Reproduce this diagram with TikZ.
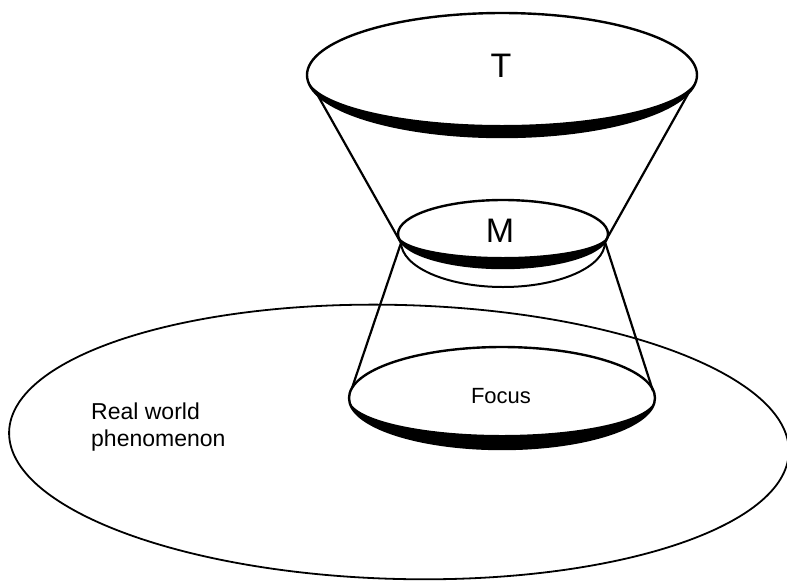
\documentclass[tikz,border=0pt]{standalone}
\usepackage{fontspec}
\setmainfont{Liberation Sans}
\usepackage{tikz}
\usetikzlibrary{calc}

\begin{document}
\begin{tikzpicture}[
      x=1pt, y=-1pt,
      outline/.style={line width=2.4pt},
      cone/.style={line width=2.2pt, line join=round},
      rim/.style={fill=black},
      every node/.style={inner sep=0pt}
    ]
      \useasboundingbox (0,0) rectangle (787,582);
      % centres of the ellipses
      \coordinate (world) at (399,442);
      \coordinate (T) at (502,75);
      \coordinate (M) at (503,234);
      \coordinate (Mlow) at (503,242);
      \coordinate (F) at (502,398);
      % where the cone lines meet the discs
      \coordinate (Tl) at (317,94);
      \coordinate (Tr) at (688,94);
      \coordinate (Ml) at (401,243);
      \coordinate (Mr) at (605,242);
      \coordinate (Fl) at (352,388);
      \coordinate (Fr) at (653,391);

      % real world
      \draw[line width=1.8pt, rotate around={-1.5:(world)}] (world) ellipse [x radius=390, y radius=137];

      % cones
      \draw[cone] (Tl) -- (Ml) -- (Fl);
      \draw[cone] (Tr) -- (Mr) -- (Fr);

      % disc T
      \draw[outline] (T) ellipse [x radius=195, y radius=62];
      \fill[rim] ($(T)+(-195,0)$) arc [start angle=180, end angle=0, x radius=195, y radius=62]
        arc [start angle=0, end angle=180, x radius=195, y radius=50] -- cycle;
      % disc M
      \draw[outline] (M) ellipse [x radius=105, y radius=34];
      \fill[rim] ($(M)+(-105,0)$) arc [start angle=180, end angle=0, x radius=105, y radius=34]
        arc [start angle=0, end angle=180, x radius=105, y radius=23] -- cycle;
      \draw[line width=2pt] ($(Mlow)+(-102,0)$) arc [start angle=180, end angle=0, x radius=102, y radius=45];
      % disc Focus
      \draw[outline] (F) ellipse [x radius=153, y radius=51];
      \fill[rim] ($(F)+(-153,0)$) arc [start angle=180, end angle=0, x radius=153, y radius=51]
        arc [start angle=0, end angle=180, x radius=153, y radius=37] -- cycle;

      % labels
      \node (labelT) at (501,66) {\fontsize{34}{40}\selectfont T};
      \node (labelM) at (500,231) {\fontsize{34}{40}\selectfont M};
      \node (labelF) at (501,396) {\fontsize{22}{26}\selectfont Focus};
      \node (labelW) [anchor=north west, align=left, font=\fontsize{23}{27}\selectfont] at (91,403) {Real world\\phenomenon};
    \end{tikzpicture}
\end{document}
